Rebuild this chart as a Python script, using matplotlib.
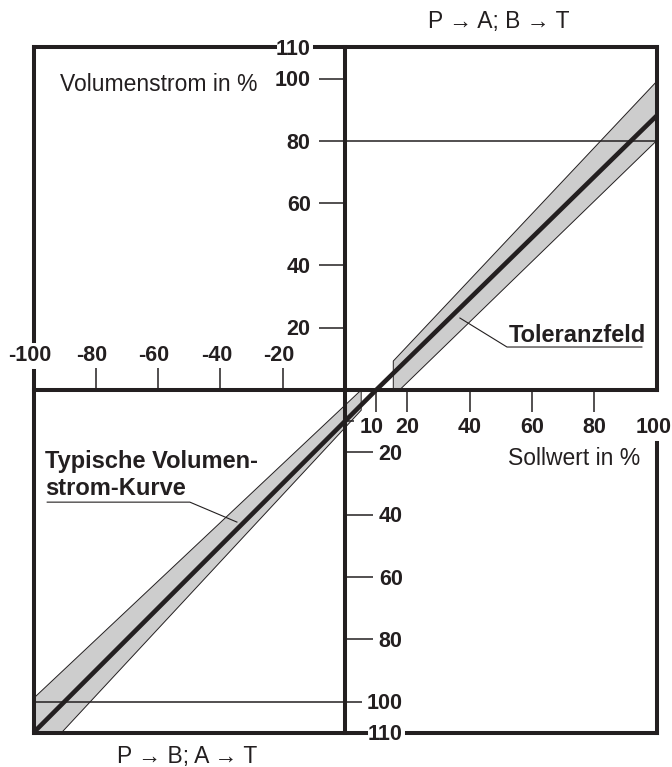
import matplotlib
matplotlib.use('Agg')
import matplotlib.pyplot as plt
from matplotlib.font_manager import FontProperties

# ---------------- data ----------------
x_ticks_neg = [-100, -80, -60, -40, -20]
x_ticks_pos = [10, 20, 40, 60, 80, 100]
y_ticks_pos = [20, 40, 60, 80, 100, 110]
y_ticks_neg = [-20, -40, -60, -80, -100, -110]
y_neg_labels = ['20', '40', '60', '80', '100', '110']

curve_x = [-100, 10, 100]
curve_y = [-110, 0, 88]

band_upper_x = [15.5, 15.5, 100, 100, 17.5]
band_upper_y = [0, 9.3, 99, 80, 0]
band_lower_x = [5.2, -100, -100, -91, 5.2]
band_lower_y = [0, -99, -110, -110, -6.5]

# ---------------- style ----------------
tfs = 15.5
tick_fp = FontProperties(family='Liberation Sans', weight='bold', size=tfs)
reg = 'Liberation Sans'
dark = '#231f20'
band_col = '#cdcdcd'

fig = plt.figure(figsize=(6.72, 7.67), dpi=100)
ax = fig.add_axes([0, 0, 1, 1])
S = 3.115
ax.set_xlim(-345 / S, (672 - 345) / S)
ax.set_ylim(-(767 - 390) / S, 390 / S)
ax.axis('off')

# bands
ax.fill(band_upper_x, band_upper_y, facecolor=band_col, edgecolor=dark, lw=0.7, zorder=1)
ax.fill(band_lower_x, band_lower_y, facecolor=band_col, edgecolor=dark, lw=0.7, zorder=1)

# curve
ax.plot(curve_x, curve_y, color=dark, lw=3.3, zorder=3, solid_capstyle='butt')

def seg(p, q, lw=2.9, z=4, cap='projecting'):
    ax.plot([p[0], q[0]], [p[1], q[1]], color=dark, lw=lw, zorder=z,
            solid_capstyle=cap)

# frame with gaps for labels
seg((-100, 110), (-22.5, 110))
seg((-9.5, 110), (100, 110))
seg((100, 110), (100, 0))
seg((100, -17), (100, -110))
seg((-100, -110), (6.8, -110))
seg((19.9, -110), (100, -110))
seg((-100, 110), (-100, 15.6))
seg((-100, 6.2), (-100, -110))
# axes
seg((0, 110), (0, -110))
seg((-100, 0), (100, 0))

# ticks
tlw = 1.1
for v in y_ticks_pos[:-1]:
    if v == 80:
        seg((-8.5, v), (100, v), lw=tlw, z=2, cap='butt')
    else:
        seg((-8.5, v), (0, v), lw=tlw, z=2, cap='butt')
for v in y_ticks_neg[:-1]:
    if v == -100:
        seg((-100, v), (5.5, v), lw=tlw, z=2, cap='butt')
    else:
        seg((0, v), (9, v), lw=tlw, z=2, cap='butt')
seg((0, -10), (3, -10), lw=tlw, z=2, cap='butt')
for v in x_ticks_neg[1:]:
    seg((v, 0), (v, 7), lw=tlw, z=2, cap='butt')
for v in x_ticks_pos[:-1]:
    seg((v, 0), (v, -7), lw=tlw, z=2, cap='butt')

# tick labels
em = tfs / 72 * 100 / S   # em in data units
off = 0.36 * em
tk = dict(fontproperties=tick_fp, color=dark, va='baseline')
for v in y_ticks_pos:
    ax.text(-11, v - off, str(v), ha='right', **tk)
for v, lab in zip(y_ticks_neg, y_neg_labels):
    ax.text(18.5, v - off, lab, ha='right', **tk)
for v in x_ticks_neg:
    ax.text(v - 1.3, 11.9 - off, str(v), ha='center', **tk)
for v in x_ticks_pos:
    if v == 10:
        ax.text(8.5, -11.2 - off, str(v), ha='center', **tk)
    elif v == 100:
        ax.text(104.7, -11.2 - off, str(v), ha='right', **tk)
    else:
        ax.text(v, -11.2 - off, str(v), ha='center', **tk)

# annotations
rg = dict(fontfamily=reg, fontsize=16.5, color=dark, va='baseline')
ax.text(49.4, 116.1, 'P \u2192 A; B \u2192 T', ha='center', **rg)
ax.text(-50.7, -119.7, 'P \u2192 B; A \u2192 T', ha='center', **rg)
ax.text(-91.5, 96.0, 'Volumenstrom in %', ha='left', **rg)
ax.text(52.3, -24.1, 'Sollwert in %', ha='left', **rg)

bd = dict(fontfamily=reg, fontweight='bold', fontsize=17, color=dark, va='baseline')
ax.text(52.6, 15.4, 'Toleranzfeld', ha='left', **bd)
ax.text(-96.3, -25.0, 'Typische Volumen-', ha='left', **bd)
ax.text(-96.3, -33.7, 'strom-Kurve', ha='left', **bd)

ax.plot([36.9, 52, 95.3], [23.1, 13.8, 13.8], color=dark, lw=0.8, zorder=5)
ax.plot([-95.6, -49.8, -34.7], [-36.0, -36.0, -42.4], color=dark, lw=0.8, zorder=5)

fig.savefig('out.png', dpi=100)
